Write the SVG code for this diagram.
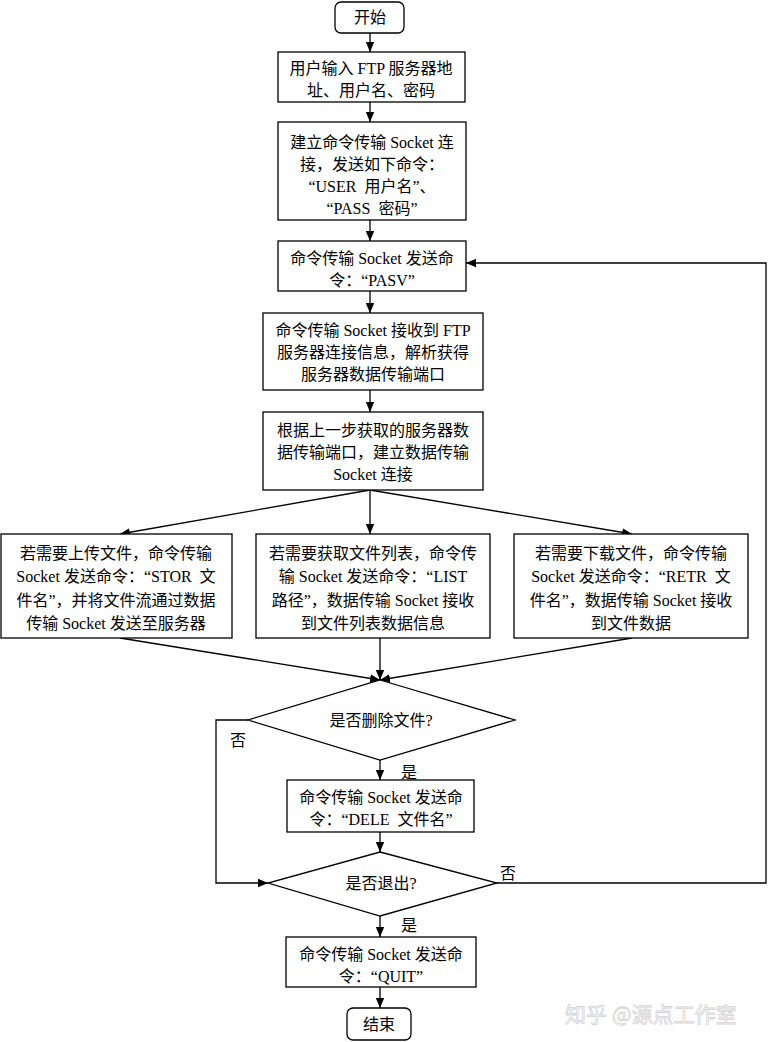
<svg xmlns="http://www.w3.org/2000/svg" width="772" height="1042" viewBox="0 0 772 1042">
<style>
.b{fill:#fff;stroke:#000;stroke-width:1.3}
.t{font-family:"Liberation Serif","Noto Sans CJK SC",serif;font-size:16px;fill:#000;text-anchor:middle;white-space:pre}
.l{fill:none;stroke:#000;stroke-width:1.3}
.wm{font-family:"Noto Sans CJK SC",sans-serif;font-size:21px;fill:#fff;stroke:#d4d4d4;stroke-width:0.8}
</style>
<defs>
<marker id="a" markerUnits="userSpaceOnUse" markerWidth="12" markerHeight="10" refX="10" refY="5" orient="auto">
<path d="M0,0.8 L10,5 L0,9.2 Z" fill="#000"/>
</marker>
</defs>
<rect width="772" height="1042" fill="#fff"/>
<g id="connectors">
<line class="l" x1="370" y1="33" x2="370" y2="52" marker-end="url(#a)"/>
<line class="l" x1="370" y1="102" x2="370" y2="122" marker-end="url(#a)"/>
<line class="l" x1="370" y1="220" x2="370" y2="241" marker-end="url(#a)"/>
<line class="l" x1="370" y1="291" x2="370" y2="313" marker-end="url(#a)"/>
<line class="l" x1="370" y1="390" x2="370" y2="412" marker-end="url(#a)"/>
<line class="l" x1="370" y1="490" x2="120" y2="534" marker-end="url(#a)"/>
<line class="l" x1="370" y1="490" x2="370" y2="534" marker-end="url(#a)"/>
<line class="l" x1="370" y1="490" x2="632" y2="534" marker-end="url(#a)"/>
<line class="l" x1="120" y1="638" x2="380" y2="680" marker-end="url(#a)"/>
<line class="l" x1="380" y1="638" x2="380" y2="680" marker-end="url(#a)"/>
<line class="l" x1="632" y1="638" x2="380" y2="680" marker-end="url(#a)"/>
<polyline class="l" points="248,720 216,720 216,883 268,883" marker-end="url(#a)"/>
<line class="l" x1="380" y1="760" x2="380" y2="780" marker-end="url(#a)"/>
<line class="l" x1="380" y1="832" x2="380" y2="852" marker-end="url(#a)"/>
<polyline class="l" points="497,883 766,883 766,263 466,263" marker-end="url(#a)"/>
<line class="l" x1="380" y1="916" x2="380" y2="937" marker-end="url(#a)"/>
<line class="l" x1="380" y1="987" x2="380" y2="1008" marker-end="url(#a)"/>
<text class="t" x="238" y="746">否</text>
<text class="t" x="409" y="778">是</text>
<text class="t" x="508" y="879">否</text>
<text class="t" x="409" y="931">是</text>
</g>
<g id="start">
<rect class="b" x="335" y="2" width="69" height="31" rx="6"/>
<text class="t" x="370" y="23">开始</text>
</g>
<g id="input">
<rect class="b" x="278" y="52" width="187" height="50"/>
<text class="t" x="371" y="74">用户输入 FTP 服务器地</text>
<text class="t" x="371" y="96">址、用户名、密码</text>
</g>
<g id="login">
<rect class="b" x="278" y="122" width="188" height="98"/>
<text class="t" x="372" y="148">建立命令传输 Socket 连</text>
<text class="t" x="372" y="170">接，发送如下命令：</text>
<text class="t" x="372" y="192">“USER  用户名”、</text>
<text class="t" x="372" y="214">“PASS  密码”</text>
</g>
<g id="pasv">
<rect class="b" x="278" y="241" width="188" height="50"/>
<text class="t" x="372" y="264">命令传输 Socket 发送命</text>
<text class="t" x="372" y="286">令：“PASV”</text>
</g>
<g id="parse">
<rect class="b" x="263" y="313" width="220" height="77"/>
<text class="t" x="373" y="336">命令传输 Socket 接收到 FTP</text>
<text class="t" x="373" y="358">服务器连接信息，解析获得</text>
<text class="t" x="373" y="380">服务器数据传输端口</text>
</g>
<g id="connect">
<rect class="b" x="263" y="412" width="220" height="78"/>
<text class="t" x="373" y="436">根据上一步获取的服务器数</text>
<text class="t" x="373" y="458">据传输端口，建立数据传输</text>
<text class="t" x="373" y="480">Socket 连接</text>
</g>
<g id="upload">
<rect class="b" x="1" y="534" width="231" height="104"/>
<text class="t" x="116" y="559">若需要上传文件，命令传输</text>
<text class="t" x="116" y="582">Socket 发送命令：“STOR  文</text>
<text class="t" x="116" y="606">件名”，并将文件流通过数据</text>
<text class="t" x="116" y="629">传输 Socket 发送至服务器</text>
</g>
<g id="list">
<rect class="b" x="256" y="534" width="234" height="104"/>
<text class="t" x="373" y="559">若需要获取文件列表，命令传</text>
<text class="t" x="373" y="582">输 Socket 发送命令：“LIST</text>
<text class="t" x="373" y="606">路径”，数据传输 Socket 接收</text>
<text class="t" x="373" y="629">到文件列表数据信息</text>
</g>
<g id="download">
<rect class="b" x="514" y="534" width="234" height="104"/>
<text class="t" x="631" y="559">若需要下载文件，命令传输</text>
<text class="t" x="631" y="582">Socket 发送命令：“RETR  文</text>
<text class="t" x="631" y="606">件名”，数据传输 Socket 接收</text>
<text class="t" x="631" y="629">到文件数据</text>
</g>
<g id="delq">
<polygon class="b" points="380,680 515,720 380,760 248,720"/>
<text class="t" x="381" y="726">是否删除文件?</text>
</g>
<g id="dele">
<rect class="b" x="287" y="780" width="187" height="52"/>
<text class="t" x="381" y="803">命令传输 Socket 发送命</text>
<text class="t" x="381" y="825">令：“DELE  文件名”</text>
</g>
<g id="quitq">
<polygon class="b" points="380,852 497,883 380,916 268,883"/>
<text class="t" x="381" y="889">是否退出?</text>
</g>
<g id="quit">
<rect class="b" x="286" y="937" width="190" height="50"/>
<text class="t" x="381" y="960">命令传输 Socket 发送命</text>
<text class="t" x="381" y="982">令：“QUIT”</text>
</g>
<g id="end">
<rect class="b" x="347" y="1008" width="64" height="32" rx="6"/>
<text class="t" x="379" y="1030">结束</text>
</g>
<text class="wm" x="565" y="1022">知乎 @源点工作室</text>
</svg>
